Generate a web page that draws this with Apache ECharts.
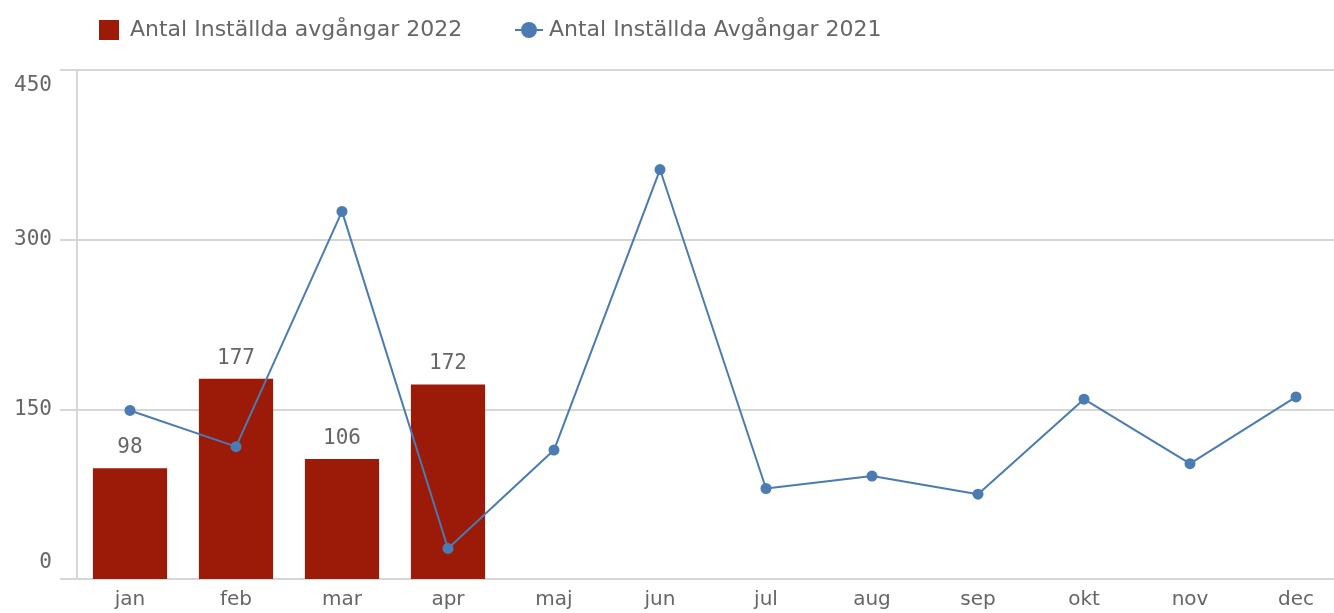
<!DOCTYPE html>
<html>
<head>
<meta charset="utf-8">
<script src="https://cdn.jsdelivr.net/npm/echarts@6/dist/echarts.min.js"></script>
<style>
  html, body { margin: 0; padding: 0; background: #fff; overflow: hidden; }
  /* a little wider than the window: the last category runs past the right edge */
  #main { width: 1350px; height: 613px; }
</style>
</head>
<body>
<div id="main"></div>
<script>
var months = ["jan", "feb", "mar", "apr", "maj", "jun", "jul", "aug", "sep", "okt", "nov", "dec"];
var cancelled2022 = [98, 177, 106, 172];
var cancelled2021 = [149, 117, 325, 27, 114, 362, 80, 91, 75, 159, 102, 161];
var yTicks = [0, 150, 300, 450];

var barName = "Antal Inställda avgångar 2022";
var lineName = "Antal Inställda Avgångar 2021";
var numFont = "DejaVu Sans Mono";
var textFont = "DejaVu Sans";

var chartDom = document.getElementById("main");
var myChart = echarts.init(chartDom);
var option;

option = {
  animation: false,
  legend: [
    {
      left: 94, top: 14,
      itemWidth: 20, itemHeight: 20,
      icon: "rect",
      data: [barName],
      textStyle: { fontFamily: textFont, fontSize: 22, color: "#666", padding: [0, 0, 0, 6] }
    },
    {
      left: 509, top: 14,
      itemWidth: 28, itemHeight: 20,
      data: [lineName],
      textStyle: { fontFamily: textFont, fontSize: 22, color: "#666", padding: [0, 0, 0, 1] }
    }
  ],
  grid: { left: 77, right: 1, top: 70, bottom: 34 },
  xAxis: {
    type: "category",
    data: months,
    axisLine: { lineStyle: { color: "#d6d6d6", width: 2 } },
    axisTick: { show: false },
    axisLabel: { fontFamily: textFont, fontSize: 20, color: "#666", margin: 11 }
  },
  yAxis: {
    type: "value",
    min: yTicks[0],
    max: yTicks[yTicks.length - 1],
    interval: yTicks[1] - yTicks[0],
    axisLine: { show: true, lineStyle: { color: "#d6d6d6", width: 2 } },
    axisTick: { show: true, length: 17, lineStyle: { color: "#d6d6d6", width: 2 } },
    splitLine: { lineStyle: { color: "#d6d6d6", width: 2 } },
    axisLabel: {
      margin: 25,
      fontFamily: numFont, fontSize: 21, color: "#666",
      formatter: function (v) {
        if (v === yTicks[0]) return "{lo|" + v + "}";
        if (v === yTicks[yTicks.length - 1]) return "{hi|" + v + "}";
        return "{mid|" + v + "}";
      },
      rich: {
        lo: { fontFamily: numFont, fontSize: 21, color: "#666", padding: [0, 0, 32, 0] },
        hi: { fontFamily: numFont, fontSize: 21, color: "#666", padding: [32, 0, 0, 0] },
        mid: { fontFamily: numFont, fontSize: 21, color: "#666" }
      }
    }
  },
  series: [
    {
      name: barName,
      type: "bar",
      barWidth: "70%",
      itemStyle: { color: "#9b1a08" },
      label: {
        show: true,
        position: "top",
        distance: 10,
        fontFamily: numFont,
        fontSize: 21,
        color: "#666"
      },
      data: cancelled2022
    },
    {
      name: lineName,
      type: "line",
      symbol: "circle",
      symbolSize: 11,
      lineStyle: { color: "#4a7bb3", width: 2 },
      itemStyle: { color: "#4a7bb3" },
      data: cancelled2021
    }
  ]
};

option && myChart.setOption(option);
</script>
</body>
</html>
